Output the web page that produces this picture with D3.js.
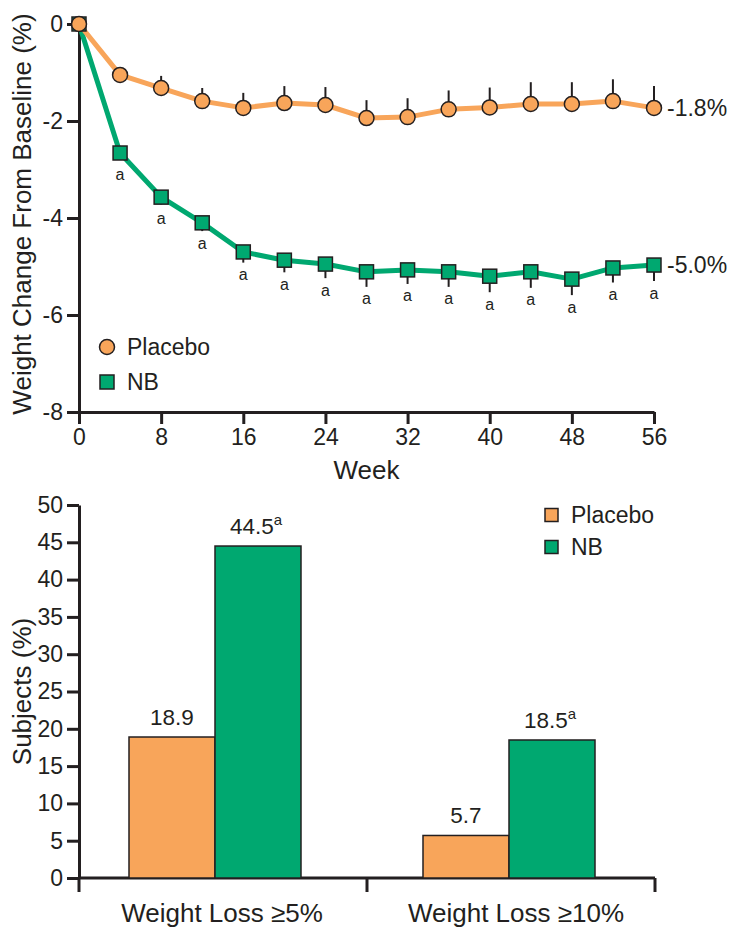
<!DOCTYPE html>
<html>
<head>
<meta charset="utf-8">
<script src="https://cdn.jsdelivr.net/npm/d3@7"></script>
<style>
  html, body { margin: 0; padding: 0; background: #fff; }
  svg { display: block; font-family: "Liberation Sans", Arial, Helvetica, sans-serif; }
</style>
</head>
<body>
<svg id="chart" width="735" height="941"></svg>
<script>
// ---------- Data ----------
const weeks = [0, 4, 8, 12, 16, 20, 24, 28, 32, 36, 40, 44, 48, 52, 56];
const placeboMean = [0, -1.05, -1.32, -1.59, -1.73, -1.63, -1.67, -1.94, -1.92, -1.76, -1.72, -1.65, -1.65, -1.59, -1.73];
const placeboSE   = [0, 0.15, 0.25, 0.27, 0.31, 0.35, 0.37, 0.37, 0.39, 0.39, 0.41, 0.45, 0.45, 0.45, 0.45];
const nbMean = [0, -2.66, -3.57, -4.10, -4.70, -4.87, -4.95, -5.11, -5.07, -5.11, -5.20, -5.11, -5.26, -5.03, -4.97];
const nbSE   = [0, 0.12, 0.15, 0.17, 0.22, 0.25, 0.29, 0.31, 0.29, 0.31, 0.33, 0.33, 0.33, 0.30, 0.33];
const nbSig  = ["", "a", "a", "a", "a", "a", "a", "a", "a", "a", "a", "a", "a", "a", "a"];
const endLabels = ["-1.8%", "-5.0%"];
const xTicksTop = [0, 8, 16, 24, 32, 40, 48, 56];
const yTicksTop = [0, -2, -4, -6, -8];

const categories = ["Weight Loss \u22655%", "Weight Loss \u226510%"];
const placeboPct = [18.9, 5.7];
const nbPct = [44.5, 18.5];
const placeboSig = ["", ""];
const nbPctSig = ["a", "a"];
const yTicksBottom = [0, 5, 10, 15, 20, 25, 30, 35, 40, 45, 50];
const seriesNames = ["Placebo", "NB"];

// ---------- Style ----------
const ORANGE = "#F8A55A";
const GREEN = "#00A870";
const INK = "#231F20";
const FONT = "Liberation Sans, Arial, sans-serif";
const svg = d3.select("#chart");

// ---------- Top chart ----------
const x = d3.scaleLinear().domain([0, 56]).range([79, 654]);
const y = d3.scaleLinear().domain([-8, 0]).range([412, 24]);

const topG = svg.append("g");

const yAxisTop = topG.append("g").attr("transform", `translate(${x(0)},0)`)
  .call(d3.axisLeft(y).tickValues(yTicksTop).tickSize(12).tickSizeOuter(0).tickPadding(4)
    .tickFormat(d => String(d)));
const xAxisTop = topG.append("g").attr("transform", `translate(0,${y(-8)})`)
  .call(d3.axisBottom(x).tickValues(xTicksTop).tickSize(12).tickSizeOuter(0).tickPadding(5));

[yAxisTop, xAxisTop].forEach(g => {
  g.select(".domain").attr("stroke", INK).attr("stroke-width", 3);
  g.selectAll(".tick line").attr("stroke", INK).attr("stroke-width", 3);
  g.selectAll(".tick text").attr("fill", INK).attr("font-size", 23).attr("font-family", FONT);
});

topG.append("text")
  .attr("transform", `translate(22,214) rotate(-90)`)
  .attr("text-anchor", "middle").attr("dominant-baseline", "central")
  .attr("font-size", 26).attr("fill", INK)
  .text("Weight Change From Baseline (%)");
topG.append("text")
  .attr("x", (x(0) + x(56)) / 2).attr("y", 479)
  .attr("text-anchor", "middle").attr("font-size", 26).attr("fill", INK)
  .text("Week");

const placeboData = weeks.map((w, i) => ({ w, v: placeboMean[i], e: placeboSE[i] }));
const nbData = weeks.map((w, i) => ({ w, v: nbMean[i], e: nbSE[i], s: nbSig[i] }));

const line = d3.line().x(d => x(d.w)).y(d => y(d.v));

// error bars
topG.append("g").selectAll("line").data(placeboData.filter(d => d.e > 0)).join("line")
  .attr("x1", d => x(d.w)).attr("x2", d => x(d.w))
  .attr("y1", d => y(d.v)).attr("y2", d => y(d.v + d.e))
  .attr("stroke", INK).attr("stroke-width", 2);
topG.append("g").selectAll("line").data(nbData.filter(d => d.e > 0)).join("line")
  .attr("x1", d => x(d.w)).attr("x2", d => x(d.w))
  .attr("y1", d => y(d.v)).attr("y2", d => y(d.v - d.e))
  .attr("stroke", INK).attr("stroke-width", 2);

// lines
topG.append("path").datum(nbData).attr("d", line)
  .attr("fill", "none").attr("stroke", GREEN).attr("stroke-width", 5).attr("stroke-linejoin", "round");
topG.append("path").datum(placeboData).attr("d", line)
  .attr("fill", "none").attr("stroke", ORANGE).attr("stroke-width", 5).attr("stroke-linejoin", "round");

// markers
const sq = 14;
topG.append("g").selectAll("rect").data(nbData).join("rect")
  .attr("x", d => x(d.w) - sq / 2).attr("y", d => y(d.v) - sq / 2)
  .attr("width", sq).attr("height", sq)
  .attr("fill", GREEN).attr("stroke", INK).attr("stroke-width", 1.5);
topG.append("g").selectAll("circle").data(placeboData).join("circle")
  .attr("cx", d => x(d.w)).attr("cy", d => y(d.v)).attr("r", 7.5)
  .attr("fill", ORANGE).attr("stroke", INK).attr("stroke-width", 1.5);

// significance "a"
topG.append("g").selectAll("text").data(nbData.filter(d => d.s)).join("text")
  .attr("x", d => x(d.w))
  .attr("y", d => Math.max(y(d.v) + 21, y(d.v - d.e) + 12))
  .attr("text-anchor", "middle").attr("dominant-baseline", "central")
  .attr("font-size", 16).attr("fill", INK)
  .text(d => d.s);

// end labels
const last = weeks.length - 1;
topG.append("text").attr("x", x(56) + 13).attr("y", y(placeboMean[last]))
  .attr("dominant-baseline", "central").attr("font-size", 23).attr("fill", INK).text(endLabels[0]);
topG.append("text").attr("x", x(56) + 13).attr("y", y(nbMean[last]))
  .attr("dominant-baseline", "central").attr("font-size", 23).attr("fill", INK).text(endLabels[1]);

// top legend
const lgTop = topG.append("g");
lgTop.append("circle").attr("cx", 107).attr("cy", 347).attr("r", 7.5)
  .attr("fill", ORANGE).attr("stroke", INK).attr("stroke-width", 1.5);
lgTop.append("rect").attr("x", 107 - sq / 2).attr("y", 382 - sq / 2).attr("width", sq).attr("height", sq)
  .attr("fill", GREEN).attr("stroke", INK).attr("stroke-width", 1.5);
lgTop.append("text").attr("x", 127).attr("y", 347).attr("dominant-baseline", "central")
  .attr("font-size", 23).attr("fill", INK).text(seriesNames[0]);
lgTop.append("text").attr("x", 127).attr("y", 382).attr("dominant-baseline", "central")
  .attr("font-size", 23).attr("fill", INK).text(seriesNames[1]);

// ---------- Bottom chart ----------
const axisLeftX = 79, axisRightX = 655;
const x0 = d3.scaleBand().domain(categories).range([73, 661]).paddingInner(0).paddingOuter(0);
const x1 = d3.scaleBand().domain(seriesNames).range([56, 228]).padding(0);
const yb = d3.scaleLinear().domain([0, 50]).range([878, 505]);

const bot = svg.append("g");

const yAxisB = bot.append("g").attr("transform", `translate(${axisLeftX},0)`)
  .call(d3.axisLeft(yb).tickValues(yTicksBottom).tickSize(12).tickSizeOuter(0).tickPadding(4));
yAxisB.select(".domain").attr("stroke", INK).attr("stroke-width", 3);
yAxisB.selectAll(".tick line").attr("stroke", INK).attr("stroke-width", 3);
yAxisB.selectAll(".tick text").attr("fill", INK).attr("font-size", 23).attr("font-family", FONT);

// x axis with group boundary ticks
const bounds = [axisLeftX, x0(categories[1]), axisRightX];
const xAxisB = bot.append("g");
xAxisB.append("line").attr("x1", axisLeftX).attr("x2", axisRightX).attr("y1", yb(0)).attr("y2", yb(0))
  .attr("stroke", INK).attr("stroke-width", 3);
xAxisB.selectAll("line.b").data(bounds).join("line").attr("class", "b")
  .attr("x1", d => d).attr("x2", d => d).attr("y1", yb(0)).attr("y2", yb(0) + 14)
  .attr("stroke", INK).attr("stroke-width", 3);
xAxisB.selectAll("text").data(categories).join("text")
  .attr("x", d => x0(d) + x0.bandwidth() / 2 + 2).attr("y", 922)
  .attr("text-anchor", "middle").attr("font-size", 26).attr("fill", INK)
  .text(d => d);

bot.append("text")
  .attr("transform", `translate(22,${(yb(0) + yb(50)) / 2}) rotate(-90)`)
  .attr("text-anchor", "middle").attr("dominant-baseline", "central")
  .attr("font-size", 26).attr("fill", INK)
  .text("Subjects (%)");

const barData = [];
categories.forEach((c, i) => {
  barData.push({ c, s: seriesNames[0], v: placeboPct[i], sig: placeboSig[i], color: ORANGE });
  barData.push({ c, s: seriesNames[1], v: nbPct[i], sig: nbPctSig[i], color: GREEN });
});

bot.append("g").selectAll("rect").data(barData).join("rect")
  .attr("x", d => x0(d.c) + x1(d.s)).attr("y", d => yb(d.v))
  .attr("width", x1.bandwidth()).attr("height", d => yb(0) - yb(d.v))
  .attr("fill", d => d.color).attr("stroke", INK).attr("stroke-width", 1.5);

const lbl = bot.append("g").selectAll("text").data(barData).join("text")
  .attr("x", d => x0(d.c) + x1(d.s) + x1.bandwidth() / 2 + (d.sig ? -2 : 0))
  .attr("y", d => yb(d.v) - 12)
  .attr("text-anchor", "middle").attr("font-size", 22.5).attr("fill", INK);
lbl.append("tspan").text(d => d.v.toFixed(1));
lbl.filter(d => d.sig).append("tspan").attr("dy", -9).attr("font-size", 15).text(d => d.sig);

// bottom legend
const lgB = bot.append("g");
seriesNames.forEach((n, i) => {
  const cy = 515 + i * 32;
  lgB.append("rect").attr("x", 545).attr("y", cy - 6.5).attr("width", 13).attr("height", 13)
    .attr("fill", i === 0 ? ORANGE : GREEN).attr("stroke", INK).attr("stroke-width", 1.5);
  lgB.append("text").attr("x", 571).attr("y", cy).attr("dominant-baseline", "central")
    .attr("font-size", 23).attr("fill", INK).text(n);
});
</script>
</body>
</html>
